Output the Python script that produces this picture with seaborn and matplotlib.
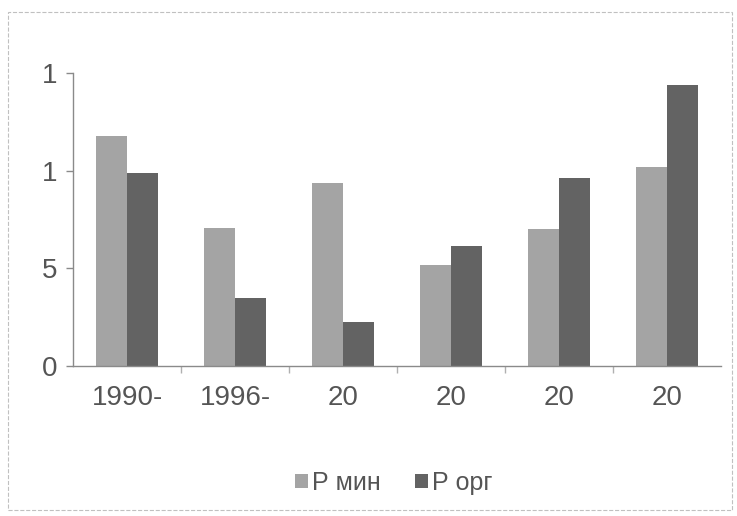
import matplotlib
matplotlib.use("Agg")
import matplotlib.pyplot as plt
import seaborn as sns
import pandas as pd
from matplotlib.patches import Rectangle
from matplotlib.ticker import FixedLocator, FixedFormatter

categories = ["1990-", "1996-", "20 ", "20  ", "20   ", "20    "]
tick_labels = ["1990-", "1996-", "20", "20", "20", "20"]
series_names = ["Р мин", "Р орг"]
p_min = [11.8, 7.05, 9.35, 5.15, 7.0, 10.2]
p_org = [9.9, 3.5, 2.25, 6.15, 9.6, 14.4]
y_ticks = [0, 5, 10, 15]
y_tick_labels = ["0", "5", "1", "1"]

df = pd.DataFrame({
    "cat": categories * 2,
    "series": [series_names[0]] * 6 + [series_names[1]] * 6,
    "val": p_min + p_org,
})

sns.set_theme(style="white")
plt.rcParams["font.family"] = ["Liberation Sans", "DejaVu Sans"]

fig = plt.figure(figsize=(7.37, 5.16), dpi=100)
ax = fig.add_axes([73/737, 1-366/516, (721-73)/737, (366-73)/516])

palette = {series_names[0]: "#a4a4a4", series_names[1]: "#636363"}
sns.barplot(data=df, x="cat", y="val", hue="series", order=categories,
            hue_order=series_names, palette=palette, width=0.57,
            saturation=1, ax=ax, legend=True, edgecolor="none", linewidth=0)

ax.set_ylim(0, 15)
ax.set_xlim(-0.5, 5.5)
ax.yaxis.set_major_locator(FixedLocator(y_ticks))
ax.yaxis.set_major_formatter(FixedFormatter(y_tick_labels))
ax.set_xticks(range(6))
ax.set_xticklabels(tick_labels)
ax.set_xlabel("")
ax.set_ylabel("")
for s in ["top", "right"]:
    ax.spines[s].set_visible(False)
for s in ["left", "bottom"]:
    ax.spines[s].set_color("#8a8a8a")
    ax.spines[s].set_linewidth(1.0)
ax.tick_params(axis="y", labelsize=20, labelcolor="#555555", length=5,
               color="#8a8a8a", left=True, pad=6, width=1)
ax.tick_params(axis="x", labelsize=20, labelcolor="#555555", length=0, pad=14)
ax.set_xticks([0.5, 1.5, 2.5, 3.5, 4.5], minor=True)
ax.tick_params(axis="x", which="minor", bottom=True, length=5, color="#b0b0b0", width=1)

leg = ax.legend(loc="center", bbox_to_anchor=(0.495, -0.40), ncol=2, frameon=False,
                fontsize=18, handlelength=0.5, handleheight=0.5, handletextpad=0.15,
                columnspacing=1.4, labelcolor="#555555")

fig.patches.append(Rectangle((8/737, 6/516), 724/737, 498/516, transform=fig.transFigure,
                             fill=False, edgecolor="#c0c0c0", linewidth=0.8, linestyle="--"))

fig.savefig("out.png", dpi=100, facecolor="white")
